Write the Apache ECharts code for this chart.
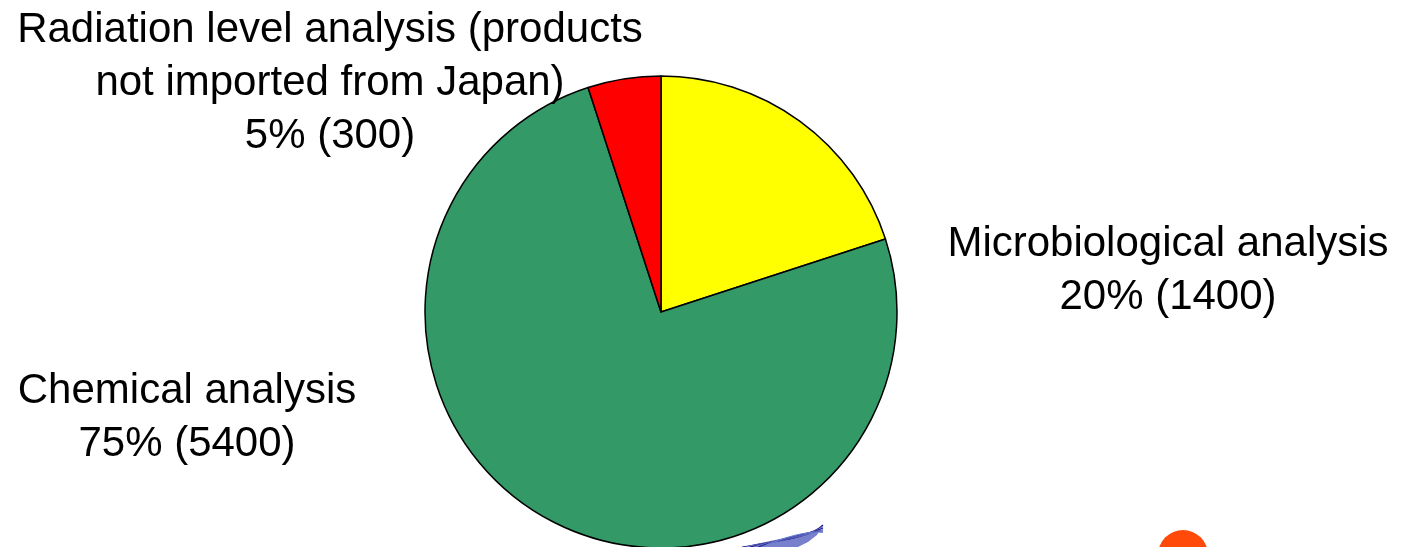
<!DOCTYPE html>
<html><head><meta charset="utf-8">
<script src="https://cdn.jsdelivr.net/npm/echarts@6/dist/echarts.min.js"></script>
<style>html,body{margin:0;padding:0;background:#fff}#c{width:1412px;height:547px}</style>
</head><body><div id="c"></div>
<script>
const categories = ["Microbiological analysis", "Chemical analysis", "Radiation level analysis (products\nnot imported from Japan)"];
const percents = [20, 75, 5];
const counts = [1400, 5400, 300];
const colors = ["#FFFF00", "#339966", "#FF0000"];
const labelPos = [[1168, 271], [187, 418], [330, 83]];

const swooshLines = [];
for (let k = 0; k < 6; k++) {
  swooshLines.push({
    type: 'bezierCurve',
    shape: { x1: 742 + k * 4, y1: 547, cpx1: 780, cpy1: 541 - k * 0.5, cpx2: 812, cpy2: 537 - k * 1.5, x2: 823, y2: 525 + k * 1.5 },
    style: { stroke: k % 2 ? '#6a7fd0' : '#2a1d8a', lineWidth: 1.2, fill: null }
  });
}

const chart = echarts.init(document.getElementById('c'));
chart.setOption({
  animation: false,
  graphic: [
    { type: 'circle', shape: { cx: 1183, cy: 555, r: 25 }, style: { fill: '#FF4A0A' } },
    { type: 'polygon', shape: { points: [[742,547],[770,541],[800,535],[815,530],[823,525],[817,535],[808,542],[798,547]] }, style: { fill: '#5560c0', opacity: 0.8 } }
  ].concat(swooshLines),
  series: [{
    type: 'pie',
    center: [661, 312],
    radius: 236,
    startAngle: 90,
    clockwise: true,
    data: categories.map((n, i) => ({ name: n, value: percents[i], itemStyle: { color: colors[i] } })),
    itemStyle: { borderColor: '#000', borderWidth: 1.5 },
    label: {
      show: true,
      position: 'outside',
      formatter: p => p.name + '\n' + percents[p.dataIndex] + '% (' + counts[p.dataIndex] + ')',
      fontFamily: 'Liberation Sans, Arial',
      fontSize: 42,
      lineHeight: 53,
      color: '#000',
      align: 'center',
      overflow: 'none',
      width: 800
    },
    labelLine: { show: false },
    labelLayout: p => ({ x: labelPos[p.dataIndex][0], y: labelPos[p.dataIndex][1], align: 'center', verticalAlign: 'middle' }),
    emphasis: { disabled: true }
  }]
});
</script></body></html>
